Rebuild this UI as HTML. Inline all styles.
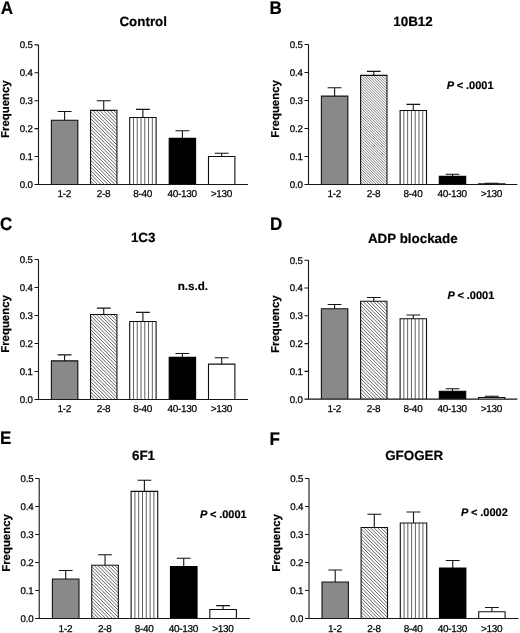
<!DOCTYPE html><html><head><meta charset="utf-8"><style>html,body{margin:0;padding:0;background:#fff}svg{display:block;will-change:transform}text{font-family:"Liberation Sans",sans-serif;fill:#000;text-rendering:geometricPrecision}</style></head><body>
<svg width="520" height="633" viewBox="0 0 520 633">
<defs><filter id="bl" x="0" y="0" width="520" height="633" filterUnits="userSpaceOnUse"><feGaussianBlur stdDeviation="0.35"/></filter></defs>
<rect width="520" height="633" fill="#fff"/>
<g filter="url(#bl)">
<text transform="translate(0.85 13.8) scale(0.93 1)" font-size="18.3" font-weight="bold" stroke="#000" stroke-width="0.2">A</text>
<text x="143.2" y="26.3" font-size="13.4" font-weight="bold" stroke="#000" stroke-width="0.2" text-anchor="middle">Control</text>
<text transform="translate(9.20 109.17) rotate(-90)" font-size="11.4" font-weight="bold" stroke="#000" stroke-width="0.2" text-anchor="middle">Frequency</text>
<path d="M64.60 120.20V111.50M57.70 111.50H71.50" stroke="#151515" stroke-width="1.1" fill="none"/>
<rect x="51.40" y="120.20" width="26.4" height="64.30" fill="#898989"/>
<path d="M51.40 184.50V120.20H77.80V184.50" stroke="#111" stroke-width="1.1" fill="none"/>
<text x="64.30" y="197.30" font-size="10" letter-spacing="-0.3" stroke="#000" stroke-width="0.25" text-anchor="middle">1-2</text>
<path d="M103.75 110.40V100.80M96.85 100.80H110.65" stroke="#151515" stroke-width="1.1" fill="none"/>
<rect x="90.55" y="110.40" width="26.4" height="74.10" fill="#fff"/>
<clipPath id="cA"><rect x="90.55" y="110.40" width="26.4" height="74.10"/></clipPath>
<path d="M13.17 110.40l76.10 76.10M16.63 110.40l76.10 76.10M20.09 110.40l76.10 76.10M23.55 110.40l76.10 76.10M27.01 110.40l76.10 76.10M30.47 110.40l76.10 76.10M33.93 110.40l76.10 76.10M37.39 110.40l76.10 76.10M40.85 110.40l76.10 76.10M44.31 110.40l76.10 76.10M47.77 110.40l76.10 76.10M51.23 110.40l76.10 76.10M54.69 110.40l76.10 76.10M58.15 110.40l76.10 76.10M61.61 110.40l76.10 76.10M65.07 110.40l76.10 76.10M68.53 110.40l76.10 76.10M71.99 110.40l76.10 76.10M75.45 110.40l76.10 76.10M78.91 110.40l76.10 76.10M82.37 110.40l76.10 76.10M85.83 110.40l76.10 76.10M89.29 110.40l76.10 76.10M92.75 110.40l76.10 76.10M96.21 110.40l76.10 76.10M99.67 110.40l76.10 76.10M103.13 110.40l76.10 76.10M106.59 110.40l76.10 76.10M110.05 110.40l76.10 76.10M113.51 110.40l76.10 76.10M116.97 110.40l76.10 76.10M120.43 110.40l76.10 76.10" stroke="#262626" stroke-width="0.72" fill="none" clip-path="url(#cA)"/>
<path d="M90.55 184.50V110.40H116.95V184.50" stroke="#111" stroke-width="1.1" fill="none"/>
<text x="103.45" y="197.30" font-size="10" letter-spacing="-0.3" stroke="#000" stroke-width="0.25" text-anchor="middle">2-8</text>
<path d="M142.90 117.50V109.40M136.00 109.40H149.80" stroke="#151515" stroke-width="1.1" fill="none"/>
<rect x="129.70" y="117.50" width="26.4" height="67.00" fill="#fff"/>
<path d="M133.47 117.50V184.50M137.24 117.50V184.50M141.01 117.50V184.50M144.79 117.50V184.50M148.56 117.50V184.50M152.33 117.50V184.50" stroke="#383838" stroke-width="0.8" fill="none"/>
<path d="M129.70 184.50V117.50H156.10V184.50" stroke="#111" stroke-width="1.1" fill="none"/>
<text x="142.60" y="197.30" font-size="10" letter-spacing="-0.3" stroke="#000" stroke-width="0.25" text-anchor="middle">8-40</text>
<path d="M182.40 138.40V130.80M175.50 130.80H189.30" stroke="#151515" stroke-width="1.1" fill="none"/>
<rect x="169.20" y="138.40" width="26.4" height="46.10" fill="#000"/>
<path d="M169.20 184.50V138.40H195.60V184.50" stroke="#000" stroke-width="1.1" fill="none"/>
<text x="182.10" y="197.30" font-size="10" letter-spacing="-0.3" stroke="#000" stroke-width="0.25" text-anchor="middle">40-130</text>
<path d="M221.70 156.50V153.20M214.80 153.20H228.60" stroke="#151515" stroke-width="1.1" fill="none"/>
<rect x="208.50" y="156.50" width="26.4" height="28.00" fill="#fff"/>
<path d="M208.50 184.50V156.50H234.90V184.50" stroke="#111" stroke-width="1.1" fill="none"/>
<text x="221.40" y="197.30" font-size="10" letter-spacing="-0.3" stroke="#000" stroke-width="0.25" text-anchor="middle">>130</text>
<text x="32.90" y="187.90" font-size="9.7" letter-spacing="-0.1" stroke="#000" stroke-width="0.25" text-anchor="end">0.0</text>
<text x="32.90" y="159.97" font-size="9.7" letter-spacing="-0.1" stroke="#000" stroke-width="0.25" text-anchor="end">0.1</text>
<text x="32.90" y="132.04" font-size="9.7" letter-spacing="-0.1" stroke="#000" stroke-width="0.25" text-anchor="end">0.2</text>
<text x="32.90" y="104.11" font-size="9.7" letter-spacing="-0.1" stroke="#000" stroke-width="0.25" text-anchor="end">0.3</text>
<text x="32.90" y="76.18" font-size="9.7" letter-spacing="-0.1" stroke="#000" stroke-width="0.25" text-anchor="end">0.4</text>
<text x="32.90" y="48.25" font-size="9.7" letter-spacing="-0.1" stroke="#000" stroke-width="0.25" text-anchor="end">0.5</text>
<path d="M38.5 44.85V184.50H247.9M34.50 184.50H38.5M34.50 156.57H38.5M34.50 128.64H38.5M34.50 100.71H38.5M34.50 72.78H38.5M34.50 44.85H38.5" stroke="#151515" stroke-width="1.1" fill="none"/>
<text transform="translate(269.5 13.7) scale(0.93 1)" font-size="18.3" font-weight="bold" stroke="#000" stroke-width="0.2">B</text>
<text x="413" y="26.3" font-size="13.4" font-weight="bold" stroke="#000" stroke-width="0.2" text-anchor="middle">10B12</text>
<text transform="translate(279.20 109.00) rotate(-90)" font-size="11.4" font-weight="bold" stroke="#000" stroke-width="0.2" text-anchor="middle">Frequency</text>
<path d="M334.60 96.15V87.70M327.70 87.70H341.50" stroke="#151515" stroke-width="1.1" fill="none"/>
<rect x="321.40" y="96.15" width="26.4" height="88.35" fill="#898989"/>
<path d="M321.40 184.50V96.15H347.80V184.50" stroke="#111" stroke-width="1.1" fill="none"/>
<text x="334.30" y="197.30" font-size="10" letter-spacing="-0.3" stroke="#000" stroke-width="0.25" text-anchor="middle">1-2</text>
<path d="M373.80 75.40V71.40M366.90 71.40H380.70" stroke="#151515" stroke-width="1.1" fill="none"/>
<rect x="360.60" y="75.40" width="26.4" height="109.10" fill="#fff"/>
<clipPath id="cB"><rect x="360.60" y="75.40" width="26.4" height="109.10"/></clipPath>
<path d="M248.85 75.40l111.10 111.10M251.50 75.40l111.10 111.10M254.15 75.40l111.10 111.10M256.80 75.40l111.10 111.10M259.45 75.40l111.10 111.10M262.10 75.40l111.10 111.10M264.75 75.40l111.10 111.10M267.40 75.40l111.10 111.10M270.05 75.40l111.10 111.10M272.70 75.40l111.10 111.10M275.35 75.40l111.10 111.10M278.00 75.40l111.10 111.10M280.65 75.40l111.10 111.10M283.30 75.40l111.10 111.10M285.95 75.40l111.10 111.10M288.60 75.40l111.10 111.10M291.25 75.40l111.10 111.10M293.90 75.40l111.10 111.10M296.55 75.40l111.10 111.10M299.20 75.40l111.10 111.10M301.85 75.40l111.10 111.10M304.50 75.40l111.10 111.10M307.15 75.40l111.10 111.10M309.80 75.40l111.10 111.10M312.45 75.40l111.10 111.10M315.10 75.40l111.10 111.10M317.75 75.40l111.10 111.10M320.40 75.40l111.10 111.10M323.05 75.40l111.10 111.10M325.70 75.40l111.10 111.10M328.35 75.40l111.10 111.10M331.00 75.40l111.10 111.10M333.65 75.40l111.10 111.10M336.30 75.40l111.10 111.10M338.95 75.40l111.10 111.10M341.60 75.40l111.10 111.10M344.25 75.40l111.10 111.10M346.90 75.40l111.10 111.10M349.55 75.40l111.10 111.10M352.20 75.40l111.10 111.10M354.85 75.40l111.10 111.10M357.50 75.40l111.10 111.10M360.15 75.40l111.10 111.10M362.80 75.40l111.10 111.10M365.45 75.40l111.10 111.10M368.10 75.40l111.10 111.10M370.75 75.40l111.10 111.10M373.40 75.40l111.10 111.10M376.05 75.40l111.10 111.10M378.70 75.40l111.10 111.10M381.35 75.40l111.10 111.10M384.00 75.40l111.10 111.10M386.65 75.40l111.10 111.10M389.30 75.40l111.10 111.10" stroke="#262626" stroke-width="0.58" fill="none" clip-path="url(#cB)"/>
<path d="M360.60 184.50V75.40H387.00V184.50" stroke="#111" stroke-width="1.1" fill="none"/>
<text x="373.50" y="197.30" font-size="10" letter-spacing="-0.3" stroke="#000" stroke-width="0.25" text-anchor="middle">2-8</text>
<path d="M413.30 110.50V104.40M406.40 104.40H420.20" stroke="#151515" stroke-width="1.1" fill="none"/>
<rect x="400.10" y="110.50" width="26.4" height="74.00" fill="#fff"/>
<path d="M403.87 110.50V184.50M407.64 110.50V184.50M411.41 110.50V184.50M415.19 110.50V184.50M418.96 110.50V184.50M422.73 110.50V184.50" stroke="#383838" stroke-width="0.8" fill="none"/>
<path d="M400.10 184.50V110.50H426.50V184.50" stroke="#111" stroke-width="1.1" fill="none"/>
<text x="413.00" y="197.30" font-size="10" letter-spacing="-0.3" stroke="#000" stroke-width="0.25" text-anchor="middle">8-40</text>
<path d="M452.50 176.35V174.30M445.60 174.30H459.40" stroke="#151515" stroke-width="1.1" fill="none"/>
<rect x="439.30" y="176.35" width="26.4" height="8.15" fill="#000"/>
<path d="M439.30 184.50V176.35H465.70V184.50" stroke="#000" stroke-width="1.1" fill="none"/>
<text x="452.20" y="197.30" font-size="10" letter-spacing="-0.3" stroke="#000" stroke-width="0.25" text-anchor="middle">40-130</text>
<path d="M491.70 183.90V183.30M484.80 183.30H498.60" stroke="#151515" stroke-width="1.1" fill="none"/>
<rect x="478.50" y="183.90" width="26.4" height="0.60" fill="#fff"/>
<path d="M478.50 184.50V183.90H504.90V184.50" stroke="#111" stroke-width="1.1" fill="none"/>
<text x="491.40" y="197.30" font-size="10" letter-spacing="-0.3" stroke="#000" stroke-width="0.25" text-anchor="middle">>130</text>
<text x="302.90" y="187.90" font-size="9.7" letter-spacing="-0.1" stroke="#000" stroke-width="0.25" text-anchor="end">0.0</text>
<text x="302.90" y="159.90" font-size="9.7" letter-spacing="-0.1" stroke="#000" stroke-width="0.25" text-anchor="end">0.1</text>
<text x="302.90" y="131.90" font-size="9.7" letter-spacing="-0.1" stroke="#000" stroke-width="0.25" text-anchor="end">0.2</text>
<text x="302.90" y="103.90" font-size="9.7" letter-spacing="-0.1" stroke="#000" stroke-width="0.25" text-anchor="end">0.3</text>
<text x="302.90" y="75.90" font-size="9.7" letter-spacing="-0.1" stroke="#000" stroke-width="0.25" text-anchor="end">0.4</text>
<text x="302.90" y="47.90" font-size="9.7" letter-spacing="-0.1" stroke="#000" stroke-width="0.25" text-anchor="end">0.5</text>
<path d="M308.5 44.50V184.50H517.4M304.50 184.50H308.5M304.50 156.50H308.5M304.50 128.50H308.5M304.50 100.50H308.5M304.50 72.50H308.5M304.50 44.50H308.5" stroke="#151515" stroke-width="1.1" fill="none"/>
<text y="88.8" font-size="11" font-weight="bold" stroke="#000" stroke-width="0.2"><tspan x="446.7" font-style="italic">P</tspan><tspan x="456.7">&lt;</tspan><tspan x="466.0">.0001</tspan></text>
<text transform="translate(0.1 229.5) scale(0.93 1)" font-size="18.3" font-weight="bold" stroke="#000" stroke-width="0.2">C</text>
<text x="143.2" y="242.3" font-size="13.4" font-weight="bold" stroke="#000" stroke-width="0.2" text-anchor="middle">1C3</text>
<text transform="translate(9.20 324.00) rotate(-90)" font-size="11.4" font-weight="bold" stroke="#000" stroke-width="0.2" text-anchor="middle">Frequency</text>
<path d="M64.60 360.90V354.85M57.70 354.85H71.50" stroke="#151515" stroke-width="1.1" fill="none"/>
<rect x="51.40" y="360.90" width="26.4" height="38.60" fill="#898989"/>
<path d="M51.40 399.50V360.90H77.80V399.50" stroke="#111" stroke-width="1.1" fill="none"/>
<text x="64.30" y="412.30" font-size="10" letter-spacing="-0.3" stroke="#000" stroke-width="0.25" text-anchor="middle">1-2</text>
<path d="M103.75 314.50V308.10M96.85 308.10H110.65" stroke="#151515" stroke-width="1.1" fill="none"/>
<rect x="90.55" y="314.50" width="26.4" height="85.00" fill="#fff"/>
<clipPath id="cC"><rect x="90.55" y="314.50" width="26.4" height="85.00"/></clipPath>
<path d="M2.79 314.50l87.00 87.00M6.25 314.50l87.00 87.00M9.71 314.50l87.00 87.00M13.17 314.50l87.00 87.00M16.63 314.50l87.00 87.00M20.09 314.50l87.00 87.00M23.55 314.50l87.00 87.00M27.01 314.50l87.00 87.00M30.47 314.50l87.00 87.00M33.93 314.50l87.00 87.00M37.39 314.50l87.00 87.00M40.85 314.50l87.00 87.00M44.31 314.50l87.00 87.00M47.77 314.50l87.00 87.00M51.23 314.50l87.00 87.00M54.69 314.50l87.00 87.00M58.15 314.50l87.00 87.00M61.61 314.50l87.00 87.00M65.07 314.50l87.00 87.00M68.53 314.50l87.00 87.00M71.99 314.50l87.00 87.00M75.45 314.50l87.00 87.00M78.91 314.50l87.00 87.00M82.37 314.50l87.00 87.00M85.83 314.50l87.00 87.00M89.29 314.50l87.00 87.00M92.75 314.50l87.00 87.00M96.21 314.50l87.00 87.00M99.67 314.50l87.00 87.00M103.13 314.50l87.00 87.00M106.59 314.50l87.00 87.00M110.05 314.50l87.00 87.00M113.51 314.50l87.00 87.00M116.97 314.50l87.00 87.00M120.43 314.50l87.00 87.00" stroke="#262626" stroke-width="0.72" fill="none" clip-path="url(#cC)"/>
<path d="M90.55 399.50V314.50H116.95V399.50" stroke="#111" stroke-width="1.1" fill="none"/>
<text x="103.45" y="412.30" font-size="10" letter-spacing="-0.3" stroke="#000" stroke-width="0.25" text-anchor="middle">2-8</text>
<path d="M142.90 321.50V312.40M136.00 312.40H149.80" stroke="#151515" stroke-width="1.1" fill="none"/>
<rect x="129.70" y="321.50" width="26.4" height="78.00" fill="#fff"/>
<path d="M133.47 321.50V399.50M137.24 321.50V399.50M141.01 321.50V399.50M144.79 321.50V399.50M148.56 321.50V399.50M152.33 321.50V399.50" stroke="#383838" stroke-width="0.8" fill="none"/>
<path d="M129.70 399.50V321.50H156.10V399.50" stroke="#111" stroke-width="1.1" fill="none"/>
<text x="142.60" y="412.30" font-size="10" letter-spacing="-0.3" stroke="#000" stroke-width="0.25" text-anchor="middle">8-40</text>
<path d="M182.40 357.40V353.50M175.50 353.50H189.30" stroke="#151515" stroke-width="1.1" fill="none"/>
<rect x="169.20" y="357.40" width="26.4" height="42.10" fill="#000"/>
<path d="M169.20 399.50V357.40H195.60V399.50" stroke="#000" stroke-width="1.1" fill="none"/>
<text x="182.10" y="412.30" font-size="10" letter-spacing="-0.3" stroke="#000" stroke-width="0.25" text-anchor="middle">40-130</text>
<path d="M221.70 364.15V357.70M214.80 357.70H228.60" stroke="#151515" stroke-width="1.1" fill="none"/>
<rect x="208.50" y="364.15" width="26.4" height="35.35" fill="#fff"/>
<path d="M208.50 399.50V364.15H234.90V399.50" stroke="#111" stroke-width="1.1" fill="none"/>
<text x="221.40" y="412.30" font-size="10" letter-spacing="-0.3" stroke="#000" stroke-width="0.25" text-anchor="middle">>130</text>
<text x="32.90" y="402.90" font-size="9.7" letter-spacing="-0.1" stroke="#000" stroke-width="0.25" text-anchor="end">0.0</text>
<text x="32.90" y="374.90" font-size="9.7" letter-spacing="-0.1" stroke="#000" stroke-width="0.25" text-anchor="end">0.1</text>
<text x="32.90" y="346.90" font-size="9.7" letter-spacing="-0.1" stroke="#000" stroke-width="0.25" text-anchor="end">0.2</text>
<text x="32.90" y="318.90" font-size="9.7" letter-spacing="-0.1" stroke="#000" stroke-width="0.25" text-anchor="end">0.3</text>
<text x="32.90" y="290.90" font-size="9.7" letter-spacing="-0.1" stroke="#000" stroke-width="0.25" text-anchor="end">0.4</text>
<text x="32.90" y="262.90" font-size="9.7" letter-spacing="-0.1" stroke="#000" stroke-width="0.25" text-anchor="end">0.5</text>
<path d="M38.5 259.50V399.50H248.1M34.50 399.50H38.5M34.50 371.50H38.5M34.50 343.50H38.5M34.50 315.50H38.5M34.50 287.50H38.5M34.50 259.50H38.5" stroke="#151515" stroke-width="1.1" fill="none"/>
<text x="177.7" y="289.9" font-size="11.6" font-weight="bold" stroke="#000" stroke-width="0.2">n.s.d.</text>
<text transform="translate(270.0 229.6) scale(0.93 1)" font-size="18.3" font-weight="bold" stroke="#000" stroke-width="0.2">D</text>
<text x="412.8" y="242.6" font-size="13.4" font-weight="bold" stroke="#000" stroke-width="0.2" text-anchor="middle">ADP blockade</text>
<text transform="translate(279.20 324.20) rotate(-90)" font-size="11.4" font-weight="bold" stroke="#000" stroke-width="0.2" text-anchor="middle">Frequency</text>
<path d="M334.60 308.75V304.50M327.70 304.50H341.50" stroke="#151515" stroke-width="1.1" fill="none"/>
<rect x="321.40" y="308.75" width="26.4" height="90.35" fill="#898989"/>
<path d="M321.40 399.10V308.75H347.80V399.10" stroke="#111" stroke-width="1.1" fill="none"/>
<text x="334.30" y="411.90" font-size="10" letter-spacing="-0.3" stroke="#000" stroke-width="0.25" text-anchor="middle">1-2</text>
<path d="M373.80 301.25V297.50M366.90 297.50H380.70" stroke="#151515" stroke-width="1.1" fill="none"/>
<rect x="360.60" y="301.25" width="26.4" height="97.85" fill="#fff"/>
<clipPath id="cD"><rect x="360.60" y="301.25" width="26.4" height="97.85"/></clipPath>
<path d="M259.00 301.25l99.85 99.85M262.46 301.25l99.85 99.85M265.92 301.25l99.85 99.85M269.38 301.25l99.85 99.85M272.84 301.25l99.85 99.85M276.30 301.25l99.85 99.85M279.76 301.25l99.85 99.85M283.22 301.25l99.85 99.85M286.68 301.25l99.85 99.85M290.14 301.25l99.85 99.85M293.60 301.25l99.85 99.85M297.06 301.25l99.85 99.85M300.52 301.25l99.85 99.85M303.98 301.25l99.85 99.85M307.44 301.25l99.85 99.85M310.90 301.25l99.85 99.85M314.36 301.25l99.85 99.85M317.82 301.25l99.85 99.85M321.28 301.25l99.85 99.85M324.74 301.25l99.85 99.85M328.20 301.25l99.85 99.85M331.66 301.25l99.85 99.85M335.12 301.25l99.85 99.85M338.58 301.25l99.85 99.85M342.04 301.25l99.85 99.85M345.50 301.25l99.85 99.85M348.96 301.25l99.85 99.85M352.42 301.25l99.85 99.85M355.88 301.25l99.85 99.85M359.34 301.25l99.85 99.85M362.80 301.25l99.85 99.85M366.26 301.25l99.85 99.85M369.72 301.25l99.85 99.85M373.18 301.25l99.85 99.85M376.64 301.25l99.85 99.85M380.10 301.25l99.85 99.85M383.56 301.25l99.85 99.85M387.02 301.25l99.85 99.85M390.48 301.25l99.85 99.85" stroke="#262626" stroke-width="0.72" fill="none" clip-path="url(#cD)"/>
<path d="M360.60 399.10V301.25H387.00V399.10" stroke="#111" stroke-width="1.1" fill="none"/>
<text x="373.50" y="411.90" font-size="10" letter-spacing="-0.3" stroke="#000" stroke-width="0.25" text-anchor="middle">2-8</text>
<path d="M413.30 318.75V315.00M406.40 315.00H420.20" stroke="#151515" stroke-width="1.1" fill="none"/>
<rect x="400.10" y="318.75" width="26.4" height="80.35" fill="#fff"/>
<path d="M403.87 318.75V399.10M407.64 318.75V399.10M411.41 318.75V399.10M415.19 318.75V399.10M418.96 318.75V399.10M422.73 318.75V399.10" stroke="#383838" stroke-width="0.8" fill="none"/>
<path d="M400.10 399.10V318.75H426.50V399.10" stroke="#111" stroke-width="1.1" fill="none"/>
<text x="413.00" y="411.90" font-size="10" letter-spacing="-0.3" stroke="#000" stroke-width="0.25" text-anchor="middle">8-40</text>
<path d="M452.50 391.25V388.75M445.60 388.75H459.40" stroke="#151515" stroke-width="1.1" fill="none"/>
<rect x="439.30" y="391.25" width="26.4" height="7.85" fill="#000"/>
<path d="M439.30 399.10V391.25H465.70V399.10" stroke="#000" stroke-width="1.1" fill="none"/>
<text x="452.20" y="411.90" font-size="10" letter-spacing="-0.3" stroke="#000" stroke-width="0.25" text-anchor="middle">40-130</text>
<path d="M491.70 397.50V396.25M484.80 396.25H498.60" stroke="#151515" stroke-width="1.1" fill="none"/>
<rect x="478.50" y="397.50" width="26.4" height="1.60" fill="#fff"/>
<path d="M478.50 399.10V397.50H504.90V399.10" stroke="#111" stroke-width="1.1" fill="none"/>
<text x="491.40" y="411.90" font-size="10" letter-spacing="-0.3" stroke="#000" stroke-width="0.25" text-anchor="middle">>130</text>
<text x="302.90" y="402.50" font-size="9.7" letter-spacing="-0.1" stroke="#000" stroke-width="0.25" text-anchor="end">0.0</text>
<text x="302.90" y="374.74" font-size="9.7" letter-spacing="-0.1" stroke="#000" stroke-width="0.25" text-anchor="end">0.1</text>
<text x="302.90" y="346.98" font-size="9.7" letter-spacing="-0.1" stroke="#000" stroke-width="0.25" text-anchor="end">0.2</text>
<text x="302.90" y="319.22" font-size="9.7" letter-spacing="-0.1" stroke="#000" stroke-width="0.25" text-anchor="end">0.3</text>
<text x="302.90" y="291.46" font-size="9.7" letter-spacing="-0.1" stroke="#000" stroke-width="0.25" text-anchor="end">0.4</text>
<text x="302.90" y="263.70" font-size="9.7" letter-spacing="-0.1" stroke="#000" stroke-width="0.25" text-anchor="end">0.5</text>
<path d="M308.5 260.30V399.10H517.4M304.50 399.10H308.5M304.50 371.34H308.5M304.50 343.58H308.5M304.50 315.82H308.5M304.50 288.06H308.5M304.50 260.30H308.5" stroke="#151515" stroke-width="1.1" fill="none"/>
<text y="299.2" font-size="11" font-weight="bold" stroke="#000" stroke-width="0.2"><tspan x="447.5" font-style="italic">P</tspan><tspan x="457.5">&lt;</tspan><tspan x="466.8">.0001</tspan></text>
<text transform="translate(0 444.4) scale(0.93 1)" font-size="18.3" font-weight="bold" stroke="#000" stroke-width="0.2">E</text>
<text x="143.5" y="459.5" font-size="13.4" font-weight="bold" stroke="#000" stroke-width="0.2" text-anchor="middle">6F1</text>
<text transform="translate(9.90 543.00) rotate(-90)" font-size="11.4" font-weight="bold" stroke="#000" stroke-width="0.2" text-anchor="middle">Frequency</text>
<path d="M65.70 579.00V570.50M58.80 570.50H72.60" stroke="#151515" stroke-width="1.1" fill="none"/>
<rect x="52.40" y="579.00" width="26.6" height="39.50" fill="#898989"/>
<path d="M52.40 618.50V579.00H79.00V618.50" stroke="#111" stroke-width="1.1" fill="none"/>
<text x="65.40" y="631.50" font-size="10" letter-spacing="-0.3" stroke="#000" stroke-width="0.25" text-anchor="middle">1-2</text>
<path d="M105.05 565.25V554.75M98.15 554.75H111.95" stroke="#151515" stroke-width="1.1" fill="none"/>
<rect x="91.75" y="565.25" width="26.6" height="53.25" fill="#fff"/>
<clipPath id="cE"><rect x="91.75" y="565.25" width="26.6" height="53.25"/></clipPath>
<path d="M35.13 565.25l55.25 55.25M38.59 565.25l55.25 55.25M42.05 565.25l55.25 55.25M45.51 565.25l55.25 55.25M48.97 565.25l55.25 55.25M52.43 565.25l55.25 55.25M55.89 565.25l55.25 55.25M59.35 565.25l55.25 55.25M62.81 565.25l55.25 55.25M66.27 565.25l55.25 55.25M69.73 565.25l55.25 55.25M73.19 565.25l55.25 55.25M76.65 565.25l55.25 55.25M80.11 565.25l55.25 55.25M83.57 565.25l55.25 55.25M87.03 565.25l55.25 55.25M90.49 565.25l55.25 55.25M93.95 565.25l55.25 55.25M97.41 565.25l55.25 55.25M100.87 565.25l55.25 55.25M104.33 565.25l55.25 55.25M107.79 565.25l55.25 55.25M111.25 565.25l55.25 55.25M114.71 565.25l55.25 55.25M118.17 565.25l55.25 55.25M121.63 565.25l55.25 55.25" stroke="#262626" stroke-width="0.72" fill="none" clip-path="url(#cE)"/>
<path d="M91.75 618.50V565.25H118.35V618.50" stroke="#111" stroke-width="1.1" fill="none"/>
<text x="104.75" y="631.50" font-size="10" letter-spacing="-0.3" stroke="#000" stroke-width="0.25" text-anchor="middle">2-8</text>
<path d="M144.40 491.40V480.30M137.50 480.30H151.30" stroke="#151515" stroke-width="1.1" fill="none"/>
<rect x="131.10" y="491.40" width="26.6" height="127.10" fill="#fff"/>
<path d="M134.90 491.40V618.50M138.70 491.40V618.50M142.50 491.40V618.50M146.30 491.40V618.50M150.10 491.40V618.50M153.90 491.40V618.50" stroke="#383838" stroke-width="0.8" fill="none"/>
<path d="M131.10 618.50V491.40H157.70V618.50" stroke="#111" stroke-width="1.1" fill="none"/>
<text x="144.10" y="631.50" font-size="10" letter-spacing="-0.3" stroke="#000" stroke-width="0.25" text-anchor="middle">8-40</text>
<path d="M183.75 566.50V558.30M176.85 558.30H190.65" stroke="#151515" stroke-width="1.1" fill="none"/>
<rect x="170.45" y="566.50" width="26.6" height="52.00" fill="#000"/>
<path d="M170.45 618.50V566.50H197.05V618.50" stroke="#000" stroke-width="1.1" fill="none"/>
<text x="183.45" y="631.50" font-size="10" letter-spacing="-0.3" stroke="#000" stroke-width="0.25" text-anchor="middle">40-130</text>
<path d="M223.10 609.50V605.60M216.20 605.60H230.00" stroke="#151515" stroke-width="1.1" fill="none"/>
<rect x="209.80" y="609.50" width="26.6" height="9.00" fill="#fff"/>
<path d="M209.80 618.50V609.50H236.40V618.50" stroke="#111" stroke-width="1.1" fill="none"/>
<text x="222.80" y="631.50" font-size="10" letter-spacing="-0.3" stroke="#000" stroke-width="0.25" text-anchor="middle">>130</text>
<text x="33.60" y="621.90" font-size="9.7" letter-spacing="-0.1" stroke="#000" stroke-width="0.25" text-anchor="end">0.0</text>
<text x="33.60" y="593.90" font-size="9.7" letter-spacing="-0.1" stroke="#000" stroke-width="0.25" text-anchor="end">0.1</text>
<text x="33.60" y="565.90" font-size="9.7" letter-spacing="-0.1" stroke="#000" stroke-width="0.25" text-anchor="end">0.2</text>
<text x="33.60" y="537.90" font-size="9.7" letter-spacing="-0.1" stroke="#000" stroke-width="0.25" text-anchor="end">0.3</text>
<text x="33.60" y="509.90" font-size="9.7" letter-spacing="-0.1" stroke="#000" stroke-width="0.25" text-anchor="end">0.4</text>
<text x="33.60" y="481.90" font-size="9.7" letter-spacing="-0.1" stroke="#000" stroke-width="0.25" text-anchor="end">0.5</text>
<path d="M39.2 478.50V618.50H250M35.20 618.50H39.2M35.20 590.50H39.2M35.20 562.50H39.2M35.20 534.50H39.2M35.20 506.50H39.2M35.20 478.50H39.2" stroke="#151515" stroke-width="1.1" fill="none"/>
<text y="518.3" font-size="11" font-weight="bold" stroke="#000" stroke-width="0.2"><tspan x="199.9" font-style="italic">P</tspan><tspan x="209.9">&lt;</tspan><tspan x="219.20000000000002">.0001</tspan></text>
<text transform="translate(269.5 444.6) scale(0.93 1)" font-size="18.3" font-weight="bold" stroke="#000" stroke-width="0.2">F</text>
<text x="414.2" y="459.9" font-size="13.4" font-weight="bold" stroke="#000" stroke-width="0.2" text-anchor="middle">GFOGER</text>
<text transform="translate(279.70 543.00) rotate(-90)" font-size="11.4" font-weight="bold" stroke="#000" stroke-width="0.2" text-anchor="middle">Frequency</text>
<path d="M335.20 582.00V570.00M328.30 570.00H342.10" stroke="#151515" stroke-width="1.1" fill="none"/>
<rect x="322.00" y="582.00" width="26.4" height="36.50" fill="#898989"/>
<path d="M322.00 618.50V582.00H348.40V618.50" stroke="#111" stroke-width="1.1" fill="none"/>
<text x="334.90" y="631.50" font-size="10" letter-spacing="-0.3" stroke="#000" stroke-width="0.25" text-anchor="middle">1-2</text>
<path d="M374.30 527.50V514.25M367.40 514.25H381.20" stroke="#151515" stroke-width="1.1" fill="none"/>
<rect x="361.10" y="527.50" width="26.4" height="91.00" fill="#fff"/>
<clipPath id="cF"><rect x="361.10" y="527.50" width="26.4" height="91.00"/></clipPath>
<path d="M266.42 527.50l93.00 93.00M269.88 527.50l93.00 93.00M273.34 527.50l93.00 93.00M276.80 527.50l93.00 93.00M280.26 527.50l93.00 93.00M283.72 527.50l93.00 93.00M287.18 527.50l93.00 93.00M290.64 527.50l93.00 93.00M294.10 527.50l93.00 93.00M297.56 527.50l93.00 93.00M301.02 527.50l93.00 93.00M304.48 527.50l93.00 93.00M307.94 527.50l93.00 93.00M311.40 527.50l93.00 93.00M314.86 527.50l93.00 93.00M318.32 527.50l93.00 93.00M321.78 527.50l93.00 93.00M325.24 527.50l93.00 93.00M328.70 527.50l93.00 93.00M332.16 527.50l93.00 93.00M335.62 527.50l93.00 93.00M339.08 527.50l93.00 93.00M342.54 527.50l93.00 93.00M346.00 527.50l93.00 93.00M349.46 527.50l93.00 93.00M352.92 527.50l93.00 93.00M356.38 527.50l93.00 93.00M359.84 527.50l93.00 93.00M363.30 527.50l93.00 93.00M366.76 527.50l93.00 93.00M370.22 527.50l93.00 93.00M373.68 527.50l93.00 93.00M377.14 527.50l93.00 93.00M380.60 527.50l93.00 93.00M384.06 527.50l93.00 93.00M387.52 527.50l93.00 93.00M390.98 527.50l93.00 93.00" stroke="#262626" stroke-width="0.72" fill="none" clip-path="url(#cF)"/>
<path d="M361.10 618.50V527.50H387.50V618.50" stroke="#111" stroke-width="1.1" fill="none"/>
<text x="374.00" y="631.50" font-size="10" letter-spacing="-0.3" stroke="#000" stroke-width="0.25" text-anchor="middle">2-8</text>
<path d="M413.50 523.00V512.00M406.60 512.00H420.40" stroke="#151515" stroke-width="1.1" fill="none"/>
<rect x="400.30" y="523.00" width="26.4" height="95.50" fill="#fff"/>
<path d="M404.07 523.00V618.50M407.84 523.00V618.50M411.61 523.00V618.50M415.39 523.00V618.50M419.16 523.00V618.50M422.93 523.00V618.50" stroke="#383838" stroke-width="0.8" fill="none"/>
<path d="M400.30 618.50V523.00H426.70V618.50" stroke="#111" stroke-width="1.1" fill="none"/>
<text x="413.20" y="631.50" font-size="10" letter-spacing="-0.3" stroke="#000" stroke-width="0.25" text-anchor="middle">8-40</text>
<path d="M452.70 568.00V560.50M445.80 560.50H459.60" stroke="#151515" stroke-width="1.1" fill="none"/>
<rect x="439.50" y="568.00" width="26.4" height="50.50" fill="#000"/>
<path d="M439.50 618.50V568.00H465.90V618.50" stroke="#000" stroke-width="1.1" fill="none"/>
<text x="452.40" y="631.50" font-size="10" letter-spacing="-0.3" stroke="#000" stroke-width="0.25" text-anchor="middle">40-130</text>
<path d="M491.90 611.75V607.50M485.00 607.50H498.80" stroke="#151515" stroke-width="1.1" fill="none"/>
<rect x="478.70" y="611.75" width="26.4" height="6.75" fill="#fff"/>
<path d="M478.70 618.50V611.75H505.10V618.50" stroke="#111" stroke-width="1.1" fill="none"/>
<text x="491.60" y="631.50" font-size="10" letter-spacing="-0.3" stroke="#000" stroke-width="0.25" text-anchor="middle">>130</text>
<text x="303.40" y="621.90" font-size="9.7" letter-spacing="-0.1" stroke="#000" stroke-width="0.25" text-anchor="end">0.0</text>
<text x="303.40" y="593.90" font-size="9.7" letter-spacing="-0.1" stroke="#000" stroke-width="0.25" text-anchor="end">0.1</text>
<text x="303.40" y="565.90" font-size="9.7" letter-spacing="-0.1" stroke="#000" stroke-width="0.25" text-anchor="end">0.2</text>
<text x="303.40" y="537.90" font-size="9.7" letter-spacing="-0.1" stroke="#000" stroke-width="0.25" text-anchor="end">0.3</text>
<text x="303.40" y="509.90" font-size="9.7" letter-spacing="-0.1" stroke="#000" stroke-width="0.25" text-anchor="end">0.4</text>
<text x="303.40" y="481.90" font-size="9.7" letter-spacing="-0.1" stroke="#000" stroke-width="0.25" text-anchor="end">0.5</text>
<path d="M309 478.50V618.50H518.5M305.00 618.50H309M305.00 590.50H309M305.00 562.50H309M305.00 534.50H309M305.00 506.50H309M305.00 478.50H309" stroke="#151515" stroke-width="1.1" fill="none"/>
<text y="516.1" font-size="11" font-weight="bold" stroke="#000" stroke-width="0.2"><tspan x="461" font-style="italic">P</tspan><tspan x="471">&lt;</tspan><tspan x="480.3">.0002</tspan></text>
</g></svg></body></html>
